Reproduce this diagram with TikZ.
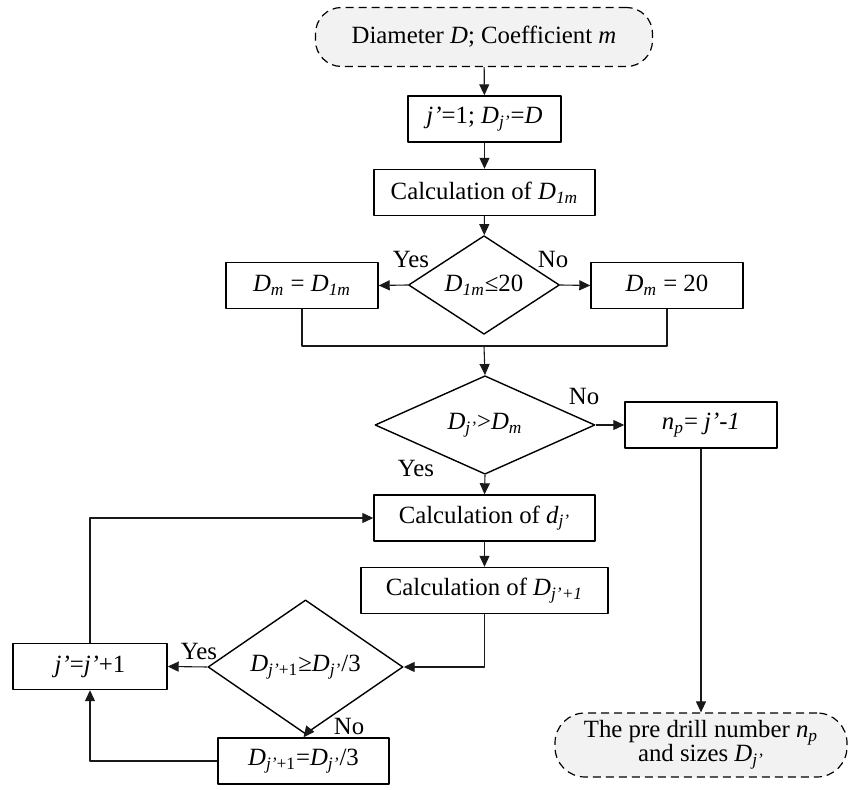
\documentclass[tikz,border=0pt]{standalone}
\usepackage{fontspec}
\setmainfont{Liberation Serif}
\usetikzlibrary{arrows.meta,shapes.geometric}
\newcommand{\Dsub}[1]{\textit{D}\textsubscript{\textit{#1}}}
\begin{document}
\begin{tikzpicture}[line join=round,>={Triangle[length=5.5pt,width=5pt]},font=\fontsize{12.4}{14}\selectfont,x=0.5pt,y=-0.5pt,
box/.style={draw,line width=0.7pt,minimum height=23pt,inner sep=1pt},
dec/.style={draw,diamond,line width=0.7pt,inner sep=0pt},
term/.style={draw,dashed,dash pattern=on 4pt off 2.5pt,line width=0.6pt,fill=gray!10,rounded corners=13pt,inner sep=1pt},
link/.style={line width=0.55pt,black!90}]
\useasboundingbox (0,0) rectangle (859,790);
\node[term,minimum width=168.5pt,minimum height=29.5pt] (start) at (484,37) {Diameter \textit{D}; Coefficient \textit{m}};
\node[box,minimum width=76.5pt] (init) at (484.5,119) {\textit{j’}=1; \Dsub{j’}=\textit{D}};
\node[box,minimum width=110.5pt] (calcA) at (484.5,192.5) {Calculation of \Dsub{1m}};
\node[dec,minimum width=75.5pt,minimum height=45pt] (decA) at (484,285) {\Dsub{1m}≤20};
\node[box,minimum width=76pt] (dmA) at (302,285.5) {\Dsub{m} = \Dsub{1m}};
\node[box,minimum width=76pt] (dmB) at (667,285.5) {\Dsub{m} = 20};
\coordinate (mrg) at (484,346);
\node[dec,minimum width=110pt,minimum height=45pt] (decB) at (485,425) {\Dsub{j’}>\Dsub{m}};
\node[box,minimum width=76pt] (np) at (701,425) {\textit{n}\textsubscript{\textit{p}}= \textit{j’-1}};
\node[box,minimum width=110.5pt] (calcd) at (484.5,518) {Calculation of \textit{d}\textsubscript{\textit{j’}}};
\node[box,minimum width=123.5pt] (calcD) at (484.5,590.5) {Calculation of \Dsub{j’+1}};
\node[dec,minimum width=97.5pt,minimum height=50pt] (decC) at (305.5,667) {\textit{D}\textsubscript{\textit{j’}+1}≥\Dsub{j’}/3};
\node[box,minimum width=77pt] (inc) at (90,666.5) {\textit{j’}=\textit{j’}+1};
\node[box,minimum width=85.5pt] (fix) at (303.5,761) {\textit{D}\textsubscript{\textit{j’}+1}=\Dsub{j’}/3};
\node[term,align=center,minimum width=146pt,minimum height=32pt,rounded corners=15pt] (stop) at (701,745) {The pre drill number \textit{n}\textsubscript{\textit{p}}\\[-2pt] and sizes \Dsub{j’}};
% labels
\node (yA) at (411,260) {Yes};
\node (nA) at (553,260) {No};
\node (nB) at (584,397) {No};
\node (yB) at (416,469) {Yes};
\node (yC) at (199,652) {Yes};
\node (nC) at (349,727) {No};
% connectors
\draw[link,->] (start) -- (init);
\draw[link,->] (init) -- (calcA);
\draw[link,->] (calcA) -- (decA);
\draw[link,->] (decA.west) -- (dmA.east);
\draw[link,->] (decA.east) -- (dmB.west);
\draw[link] (dmA.south) |- (mrg) -| (dmB.south);
\draw[link,->] (mrg) -- (decB.north);
\draw[link,->] (decB.east) -- (np.west);
\draw[link,->] (decB.south) -- (calcd.north);
\draw[link,->] (calcd) -- (calcD);
\draw[link,->] (calcD.south) |- (decC.east);
\draw[link,->] (decC.west) -- (inc.east);
\draw[link,->] (decC.south) -- (fix.north);
\draw[link,->] (fix.west) -| (inc.south);
\draw[link,->] (inc.north) |- (calcd.west);
\draw[link,->] (np.south) -- (stop.north);
\end{tikzpicture}
\end{document}
